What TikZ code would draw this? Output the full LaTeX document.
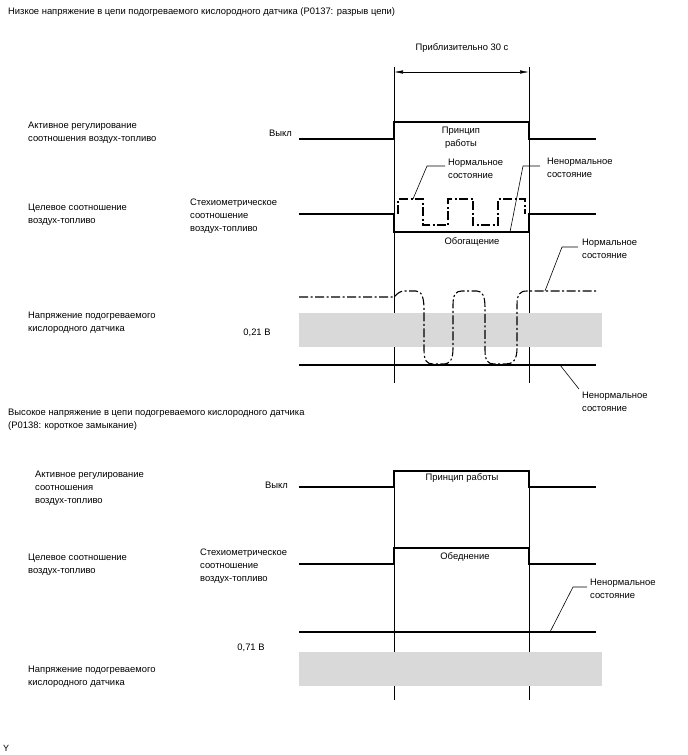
\documentclass[tikz,border=0pt]{standalone}
\usepackage{fontspec}
\setmainfont{Liberation Sans}
\usetikzlibrary{arrows.meta}

\begin{document}
\begin{tikzpicture}[x=1pt,y=-1pt]
\tikzset{>={Latex[width=3.5pt,length=9pt]}}
\tikzstyle{txt}=[inner sep=0pt,font=\fontsize{9.4}{13}\selectfont,align=left]
\tikzstyle{sig}=[line width=1.2pt,line join=miter]
\tikzstyle{guide}=[line width=0.6pt]
\tikzstyle{dashdot}=[line width=1.1pt,dash pattern=on 9pt off 2.5pt on 2pt off 2.5pt]
\tikzstyle{leader}=[line width=0.6pt]
\tikzstyle{band}=[fill=black!15]

\useasboundingbox (0,0) rectangle (688,755);

% P0137
\node[txt,anchor=north west](title1) at (8,7.5){Низкое напряжение в цепи подогреваемого кислородного датчика (P0137: разрыв цепи)};
\node[txt](approx) at (462,48){Приблизительно 30 с};
\coordinate (t1L) at (394,67);
\coordinate (t1R) at (529,67);
\draw[guide] (t1L) -- (394,383);
\draw[guide] (t1R) -- (529,383);
\draw[<->,guide] (394,72) -- (529,72);

\node[txt,anchor=north west](afc1) at (28,121.5){Активное регулирование\\соотношения воздух-топливо};
\node[txt,anchor=east](off1) at (292,133){Выкл};
\draw[sig] (299,139) -- (394,139) -- (394,122) -- (529,122) -- (529,139) -- (596,139);
\node[txt,align=center,anchor=north](work1) at (461,126.5){Принцип\\работы};

\node[txt,anchor=north west](target1) at (28,203.5){Целевое соотношение\\воздух-топливо};
\node[txt,anchor=north west](stoich1) at (190,198.5){Стехиометрическое\\соотношение\\воздух-топливо};
\draw[sig] (299,214) -- (394,214) -- (394,232) -- (529,232) -- (529,214) -- (596,214);
\draw[dashdot] (398,214) -- (398,199) -- (423,199) -- (423,225) -- (448,225) -- (448,199)
  -- (473,199) -- (473,225) -- (498,225) -- (498,199) -- (525,199) -- (525,214);
\node[txt](rich1) at (472,242){Обогащение};
\node[txt,anchor=north west](norm1) at (448,158.5){Нормальное\\состояние};
\node[txt,anchor=north west](abn1) at (547,157.5){Ненормальное\\состояние};
\coordinate (n1) at (413,199);
\coordinate (a1) at (510,232);
\draw[leader] (n1) -- (427,166) -- ([xshift=-3pt]norm1.west |- 0,166);
\draw[leader] (a1) -- (523,166) -- ([xshift=-7pt]abn1.west |- 0,166);

\node[txt,anchor=north west](volt1) at (28,311.5){Напряжение подогреваемого\\кислородного датчика};
\node[txt](v021) at (257,333){0,21 В};
\fill[band] (299,313) rectangle (602,347);
\draw[sig] (299,365) -- (596,365);
\draw[dashdot] (299,297) -- (394,297) .. controls (398,293) and (400,291) .. (405,291) -- (416,291)
  .. controls (422,291) and (424,298) .. (424,310) -- (424,350) .. controls (424,361) and (427,364) .. (433,364)
  -- (443,364) .. controls (450,364) and (453,360) .. (453,348) -- (453,305)
  .. controls (453,294) and (456,291) .. (462,291) -- (477,291) .. controls (483,291) and (485,297) .. (485,308)
  -- (485,350) .. controls (485,361) and (488,364) .. (494,364) -- (506,364)
  .. controls (513,364) and (517,360) .. (517,348) -- (517,305) .. controls (517,294) and (520,291) .. (527,291) -- (596,291);
\node[txt,anchor=north west](norm2) at (582,238.5){Нормальное\\состояние};
\node[txt,anchor=north west](abn2) at (582,391.5){Ненормальное\\состояние};
\coordinate (n2) at (545,291);
\coordinate (a2) at (560,365);
\draw[leader] (n2) -- (562,247) -- ([xshift=-4pt]norm2.west |- 0,247);
\draw[leader] (a2) -- (579,389);

% P0138
\node[txt,anchor=north west](title2) at (8,408.5){Высокое напряжение в цепи подогреваемого кислородного датчика\\(P0138: короткое замыкание)};
\coordinate (t2L) at (394,471);
\coordinate (t2R) at (529,471);
\draw[guide] (t2L) -- (394,700);
\draw[guide] (t2R) -- (529,700);

\node[txt,anchor=north west](afc2) at (35,470.5){Активное регулирование\\соотношения\\воздух-топливо};
\node[txt,anchor=east](off2) at (288,485){Выкл};
\draw[sig] (299,487) -- (394,487) -- (394,471) -- (529,471) -- (529,487) -- (596,487);
\node[txt](work2) at (462,478){Принцип работы};

\node[txt,anchor=north west](target2) at (28,553.5){Целевое соотношение\\воздух-топливо};
\node[txt,anchor=north west](stoich2) at (200,548.5){Стехиометрическое\\соотношение\\воздух-топливо};
\draw[sig] (299,564) -- (394,564) -- (394,548) -- (529,548) -- (529,564) -- (596,564);
\node[txt](lean2) at (465,557){Обеднение};

\fill[band] (299,652) rectangle (602,686);
\draw[sig] (299,632) -- (596,632);
\node[txt](v071) at (251,648){0,71 В};
\node[txt,anchor=north west](volt2) at (28,665.5){Напряжение подогреваемого\\кислородного датчика};
\node[txt,anchor=north west](abn3) at (590,578.5){Ненормальное\\состояние};
\coordinate (a3) at (550,632);
\draw[leader] (a3) -- (573,587) -- ([xshift=-3pt]abn3.west |- 0,587);

\node[txt,anchor=west,font=\fontsize{9}{10}\selectfont](ymark) at (3,748){Y};
\end{tikzpicture}
\end{document}
